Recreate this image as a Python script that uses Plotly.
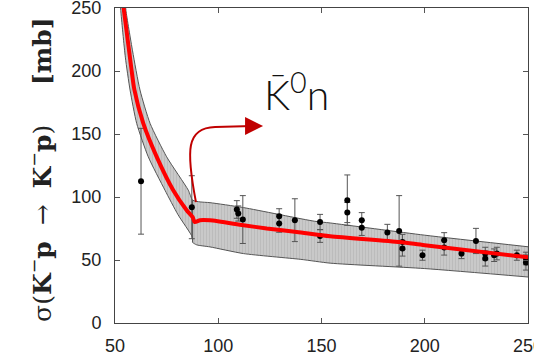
import plotly.graph_objects as go

# ---- data ----
curve_x = [54.1, 57.8, 59.4, 63.7, 70.2, 78.2, 84.7, 87.6, 88.6, 91.2, 96.0, 112.2, 123.5, 138.0, 154.2, 188.0, 200.0, 250.0]
curve_y = [251.0, 203.5, 185.0, 158.4, 131.9, 105.4, 89.5, 84.0, 80.2, 81.6, 81.5, 77.6, 75.0, 72.3, 68.9, 64.3, 61.7, 52.2]

band_upper_x = [54.9, 55.3, 58.5, 62.1, 67.0, 75.0, 85.5, 87.6, 91.2, 96.0, 112.2, 146.5, 154.2, 200.0, 250.0]
band_upper_y = [256.0, 248.0, 216.0, 184.9, 158.4, 131.9, 105.4, 97.5, 96.1, 95.5, 91.6, 80.8, 79.4, 69.7, 60.5]
band_lower_x = [52.5, 52.8, 55.0, 57.3, 60.5, 66.1, 74.2, 80.5, 87.5, 87.6, 89.6, 96.0, 112.2, 140.0, 154.2, 200.0, 250.0]
band_lower_y = [256.0, 248.0, 211.0, 184.9, 158.4, 131.9, 105.4, 86.0, 68.0, 64.0, 62.0, 60.4, 55.1, 50.5, 47.5, 43.2, 36.5]

threshold_x = [87.6, 87.6]
threshold_y = [97.5, 64.0]

data_x = [62.6, 87.2, 109.0, 109.7, 111.9, 129.5, 129.5, 137.1, 149.3, 149.3,
          162.5, 162.5, 169.5, 169.5, 181.9, 187.6, 189.2, 189.2, 198.9, 209.4,
          209.4, 217.8, 224.8, 229.3, 229.3, 233.6, 234.9, 244.6, 249.0, 249.0]
data_y = [112.5, 91.9, 90.1, 86.9, 82.1, 84.7, 79.0, 81.6, 80.2, 69.0,
          97.5, 87.7, 81.6, 75.5, 71.8, 73.1, 64.3, 59.1, 53.8, 65.7,
          59.9, 55.1, 65.1, 55.1, 51.2, 53.8, 55.1, 53.8, 51.2, 48.0]
data_err = [42, 25, 7, 6, 19, 6, 7, 17, 6, 5,
            20, 8, 6, 6, 6.5, 28, 6, 6, 4, 6,
            6, 4, 10, 5, 6, 5, 5, 4, 5, 6]

x_ticks = [50, 100, 150, 200, 250]
y_ticks = [0, 50, 100, 150, 200, 250]

fig = go.Figure()

# uncertainty band (lower edge, then upper edge filled down to it)
fig.add_trace(go.Scatter(
    x=band_lower_x, y=band_lower_y, mode="lines",
    line=dict(color="#555555", width=1, shape="spline", smoothing=0.6),
    hoverinfo="skip", showlegend=False))
fig.add_trace(go.Scatter(
    x=band_upper_x, y=band_upper_y, mode="lines", fill="tonexty",
    fillcolor="#c6c6c6",
    fillpattern=dict(shape="|", bgcolor="#c9c9c9", fgcolor="#b0b0b0", size=3, solidity=0.35),
    line=dict(color="#555555", width=1, shape="spline", smoothing=0.6),
    hoverinfo="skip", showlegend=False))

fig.add_trace(go.Scatter(x=threshold_x, y=threshold_y, mode="lines",
                         line=dict(color="#555555", width=1), showlegend=False))

# data points
fig.add_trace(go.Scatter(
    x=data_x, y=data_y, mode="markers",
    marker=dict(color="black", size=6),
    error_y=dict(type="data", array=data_err, color="#555555", thickness=1, width=3),
    showlegend=False))

# model curve
fig.add_trace(go.Scatter(x=curve_x, y=curve_y, mode="lines",
                         line=dict(color="#ff0000", width=4, shape="spline", smoothing=0.7),
                         showlegend=False))

# curved arrow
fig.add_shape(type="path",
              path="M 89.2,95.9 C 84.4,137.2 84.4,154.7 98.5,155.5 L 116.6,156.3",
              xref="x", yref="y", line=dict(color="#c00000", width=2))
fig.add_annotation(x=121.7, y=156.3, xref="x", yref="y", ax=-16, ay=0,
                   axref="pixel", ayref="pixel", text="", showarrow=True,
                   arrowhead=2, arrowsize=1.8, arrowwidth=2, arrowcolor="#c00000")

fig.add_annotation(x=121.0, y=183, xref="x", yref="y", xanchor="left", yanchor="middle",
                   text="K\u0304<sup>0</sup>n", showarrow=False,
                   font=dict(family="Lato", size=41, color="#111111", weight=300))

# y title
nb = "\u00a0"
fig.add_annotation(x=-0.18, y=0.485, xref="paper", yref="paper", textangle=-90,
                   xanchor="center", yanchor="middle",
                   text=("σ(<b>K</b><sup>−</sup><b>p</b>" + nb * 2 + "→" + nb * 2 +
                         "<b>K</b><sup>−</sup><b>p</b>)" + nb * 5 + "<b>[mb]</b>"),
                   showarrow=False,
                   font=dict(family="DejaVu Serif", size=25, color="#222222"))

axis_common = dict(showline=True, linecolor="#444444", linewidth=1, mirror="allticks",
                   ticks="inside", ticklen=5, tickcolor="#555555", showgrid=False, zeroline=False,
                   ticklabeloverflow="allow", automargin=False,
                   tickfont=dict(family="Liberation Sans", size=18, color="#222222"))
fig.update_xaxes(range=[50, 250], tickvals=x_ticks, ticklabelstandoff=6, **axis_common)
fig.update_yaxes(range=[0, 250], tickvals=y_ticks, ticklabelstandoff=9, **axis_common)

fig.update_layout(width=534, height=356, margin=dict(l=115, r=6, t=8, b=33, autoexpand=False),
                  plot_bgcolor="white", paper_bgcolor="white")

fig.write_html("out.html", config={"displayModeBar": False},
               post_script="document.body.style.margin='0';")
